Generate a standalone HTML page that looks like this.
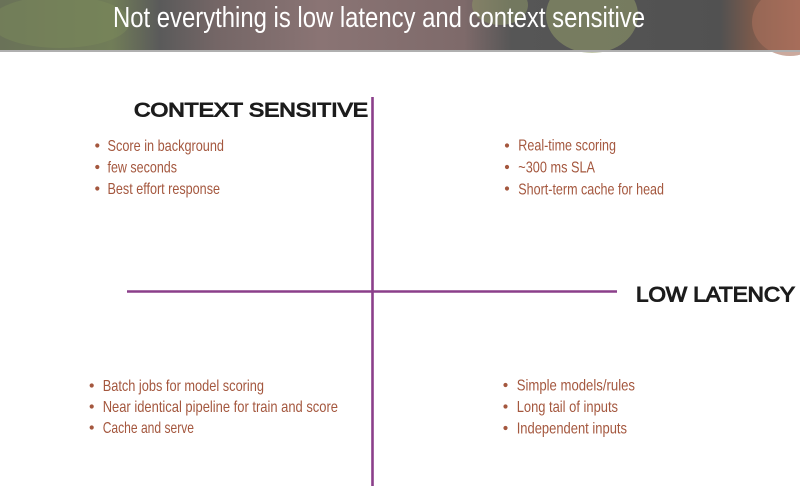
<!DOCTYPE html>
<html>
<head>
<meta charset="utf-8">
<style>
  html, body { margin:0; padding:0; background:#fff; }
  body { width:800px; height:503px; overflow:hidden; }
  svg { display:block; }
  .b { font-family:"Liberation Sans Narrow","Liberation Sans",sans-serif; font-size:16px; fill:#a4573e; }
  .h { font-family:"Liberation Sans","DejaVu Sans",sans-serif; font-weight:normal; fill:#1c1c1c; stroke:#1c1c1c; stroke-width:1.1; }
</style>
</head>
<body>
<svg width="800" height="503" viewBox="0 0 800 503" xmlns="http://www.w3.org/2000/svg">
  <defs>
    <linearGradient id="hdr" x1="0" x2="1" y1="0" y2="0">
      <stop offset="0" stop-color="#6a7258"/>
      <stop offset="0.14" stop-color="#717d58"/>
      <stop offset="0.2" stop-color="#5a5a5a"/>
      <stop offset="0.27" stop-color="#746666"/>
      <stop offset="0.4" stop-color="#8a7474"/>
      <stop offset="0.58" stop-color="#7e6a6a"/>
      <stop offset="0.64" stop-color="#565656"/>
      <stop offset="0.9" stop-color="#515151"/>
      <stop offset="0.94" stop-color="#7a5a4c"/>
      <stop offset="1" stop-color="#a66a58"/>
    </linearGradient>
  </defs>
  <!-- header -->
  <rect x="0" y="0" width="800" height="50" fill="url(#hdr)"/>
  <ellipse cx="60" cy="22" rx="70" ry="26" fill="#7c8c5a" opacity="0.45"/>
  <ellipse cx="500" cy="5" rx="28" ry="20" fill="#8f9a68" opacity="0.5"/>
  <ellipse cx="592" cy="15" rx="46" ry="38" fill="#939d6a" opacity="0.55"/>
  <ellipse cx="790" cy="22" rx="38" ry="34" fill="#a8705c" opacity="0.6"/>
  <rect x="0" y="50" width="800" height="2" fill="#b0b0b0"/>
  <text x="113" y="27" font-family="'Liberation Sans Narrow','Liberation Sans',sans-serif" font-size="29" fill="#ffffff" textLength="532" lengthAdjust="spacingAndGlyphs">Not everything is low latency and context sensitive</text>

  <!-- axes -->
  <line x1="372.5" y1="97" x2="372.5" y2="486" stroke="#8b3f8a" stroke-width="2.6"/>
  <line x1="127" y1="291.5" x2="617" y2="291.5" stroke="#8b3f8a" stroke-width="2.6"/>

  <!-- headings -->
  <text class="h" x="134" y="116.5" font-size="19" textLength="234" lengthAdjust="spacingAndGlyphs">CONTEXT SENSITIVE</text>
  <text class="h" x="636" y="301.5" font-size="21" textLength="159" lengthAdjust="spacingAndGlyphs">LOW LATENCY</text>

  <!-- bullets -->
  <g fill="#a4573e">
    <circle cx="97.3" cy="145.5" r="2.1"/>
    <circle cx="97.3" cy="167" r="2.1"/>
    <circle cx="97.3" cy="188.5" r="2.1"/>
    <circle cx="507" cy="145.5" r="2.1"/>
    <circle cx="507" cy="167" r="2.1"/>
    <circle cx="507" cy="188.5" r="2.1"/>
    <circle cx="91.7" cy="385.5" r="2.1"/>
    <circle cx="91.7" cy="406.5" r="2.1"/>
    <circle cx="91.7" cy="427.5" r="2.1"/>
    <circle cx="505.5" cy="385" r="2.1"/>
    <circle cx="505.5" cy="406.5" r="2.1"/>
    <circle cx="505.5" cy="428" r="2.1"/>
  </g>
  <!-- top-left -->
  <text class="b" x="107.5" y="151" textLength="116.5" lengthAdjust="spacingAndGlyphs">Score in background</text>
  <text class="b" x="107.5" y="172.5" textLength="69.5" lengthAdjust="spacingAndGlyphs">few seconds</text>
  <text class="b" x="107.5" y="194" textLength="112.5" lengthAdjust="spacingAndGlyphs">Best effort response</text>

  <!-- top-right -->
  <text class="b" x="518.3" y="150.5" textLength="97.7" lengthAdjust="spacingAndGlyphs">Real-time scoring</text>
  <text class="b" x="518.3" y="172.5" textLength="76.7" lengthAdjust="spacingAndGlyphs">~300 ms SLA</text>
  <text class="b" x="518.3" y="194.5" textLength="145.7" lengthAdjust="spacingAndGlyphs">Short-term cache for head</text>

  <!-- bottom-left -->
  <text class="b" x="102.7" y="391" textLength="161.3" lengthAdjust="spacingAndGlyphs">Batch jobs for model scoring</text>
  <text class="b" x="102.7" y="412" textLength="235.3" lengthAdjust="spacingAndGlyphs">Near identical pipeline for train and score</text>
  <text class="b" x="102.7" y="433" textLength="91.3" lengthAdjust="spacingAndGlyphs">Cache and serve</text>

  <!-- bottom-right -->
  <text class="b" x="516.7" y="390.5" textLength="118.3" lengthAdjust="spacingAndGlyphs">Simple models/rules</text>
  <text class="b" x="516.7" y="412" textLength="101.3" lengthAdjust="spacingAndGlyphs">Long tail of inputs</text>
  <text class="b" x="516.7" y="433.5" textLength="110.3" lengthAdjust="spacingAndGlyphs">Independent inputs</text>
</svg>
</body>
</html>
